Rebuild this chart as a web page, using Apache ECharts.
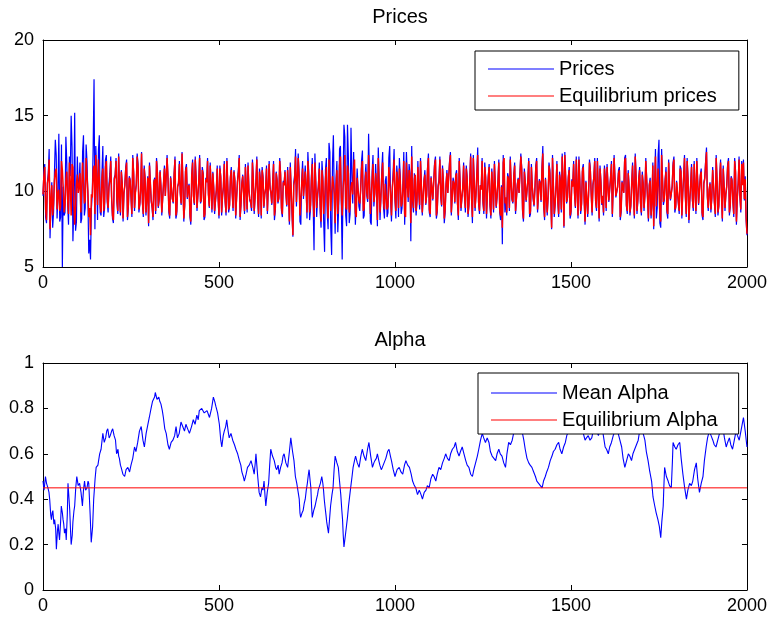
<!DOCTYPE html>
<html>
<head>
<meta charset="utf-8">
<script src="https://cdn.jsdelivr.net/npm/echarts@6/dist/echarts.min.js"></script>
<style>
html,body{margin:0;padding:0;background:#fff;}
#c{width:770px;height:626px;}
</style>
</head>
<body>
<div id="c"></div>
<script>
// ---------- data ----------
const xTicks = [0, 500, 1000, 1500, 2000];
const priceTicks = [5, 10, 15, 20];
const alphaTicks = [0, 0.2, 0.4, 0.6, 0.8, 1];
const priceStep = 5; // spacing of the price samples; the *Mid arrays sit halfway between them

// equilibrium prices at t = 0, 5, 10, ... 2000
const eqPrices = [
9.8,11.6,8.1,10.9,7.5,10.4,9.2,11.3,8.8,10.1,9.0,11.4,8.6,10.8,9.5,11.9,8.4,11.6,7.8,10.5,
9.9,11.2,8.7,10.6,9.4,11.0,8.3,7.1,9.6,11.7,12.4,9.1,10.8,8.6,11.5,9.3,12.0,8.9,10.7,9.6,
8.1,11.0,9.4,12.3,8.6,10.5,9.9,11.4,8.3,10.9,9.7,12.2,8.9,10.4,11.6,9.2,12.5,8.5,10.8,9.6,
7.9,11.8,9.0,10.6,8.7,11.2,9.5,10.3,8.6,11.5,9.8,10.9,8.4,11.0,9.3,12.1,8.7,10.5,9.9,12.5,
8.2,11.3,9.6,10.4,8.0,11.9,9.2,10.8,8.9,12.2,9.5,11.1,8.5,10.6,9.8,11.7,8.8,10.2,9.4,11.5,
8.4,10.9,9.7,11.8,8.6,10.3,9.1,11.4,8.9,10.7,9.6,11.2,8.3,10.5,9.9,11.6,8.8,10.1,9.3,11.9,
8.7,10.6,9.5,11.3,8.4,10.9,9.8,11.5,8.6,10.2,9.2,11.8,8.9,10.7,9.6,11.1,8.5,10.4,9.9,11.4,
8.0,11.7,7.1,10.8,9.3,12.2,8.4,10.5,9.7,11.3,8.6,10.9,9.1,11.8,8.3,10.4,9.8,11.5,8.0,10.7,
9.4,11.6,8.2,12.0,8.8,10.5,7.9,11.4,9.5,12.3,8.4,10.9,9.0,11.7,8.6,10.3,9.8,12.1,8.3,11.0,
9.2,11.5,8.7,10.6,9.9,12.4,8.5,10.8,9.3,11.2,8.1,10.4,9.7,11.9,8.8,10.5,9.0,11.6,8.4,10.9,
9.6,11.3,8.9,10.7,9.2,12.0,8.3,10.5,11.4,7.9,9.5,10.8,8.7,11.6,9.1,10.3,8.6,11.1,9.8,12.2,
8.5,10.9,9.4,12.1,8.8,10.6,9.7,11.5,8.2,10.4,9.9,11.8,8.6,10.7,9.3,11.2,8.4,10.5,9.6,11.7,
8.9,10.8,9.2,12.3,8.3,10.6,9.8,12.4,8.7,10.1,9.4,11.6,8.5,10.9,9.1,11.3,8.8,10.4,9.7,11.9,
8.4,7.6,12.2,9.6,11.0,8.9,10.5,9.3,11.7,8.6,10.8,9.9,11.4,8.2,10.6,9.5,12.0,8.7,10.3,9.1,
11.5,8.8,10.7,9.4,12.5,8.3,10.9,9.7,11.2,7.6,10.4,9.2,11.8,8.5,10.6,12.3,7.7,10.8,9.6,11.4,
8.7,10.3,9.9,12.1,8.4,10.7,9.2,11.6,8.0,10.5,9.8,11.3,8.6,10.9,9.4,12.0,8.2,10.6,9.7,11.5,
8.9,10.4,9.3,11.8,8.5,10.8,9.6,11.2,8.3,10.6,9.9,12.2,8.7,10.3,9.1,11.7,8.4,10.9,9.5,11.4,
8.6,10.5,9.8,11.9,8.2,10.7,9.4,7.7,12.3,9.1,11.6,8.0,10.8,9.6,11.3,8.5,10.2,9.9,11.7,8.8,
10.6,9.3,11.5,8.4,10.9,9.7,12.0,8.1,10.4,9.5,11.8,8.7,10.6,9.2,11.3,8.3,10.8,12.6,8.9,10.5,
9.6,11.4,8.5,10.7,9.1,11.9,8.2,10.3,9.8,11.6,8.6,10.9,9.4,12.0,8.0,10.5,9.7,11.8,11.9,10.8,
7.2
];
// equilibrium prices at t = 2.5, 7.5, ... 1997.5
const eqPricesMid = [
11.0,8.8,10.5,12.1,9.3,8.4,10.7,11.5,9.9,8.7,12.0,10.2,9.1,11.3,8.5,10.6,11.8,9.4,8.9,11.1,
10.3,8.6,11.9,9.2,12.2,10.0,8.9,9.8,11.4,8.5,10.6,12.1,9.0,10.9,8.7,11.6,9.5,10.3,12.0,8.4,
10.8,12.0,8.7,9.6,11.3,8.2,10.4,11.9,9.1,10.7,8.5,11.2,9.9,12.3,8.8,10.1,9.3,11.5,8.6,10.9,
11.7,9.4,8.3,10.8,12.0,9.0,11.3,8.6,10.5,9.7,12.2,8.8,10.9,9.5,11.1,8.4,10.3,11.8,9.2,10.6,
9.1,11.6,10.2,8.5,11.0,9.7,12.1,8.9,10.6,9.3,11.4,8.3,10.8,12.0,9.0,10.4,11.2,8.7,10.1,9.6,
11.5,8.6,10.3,9.4,12.0,8.8,10.9,9.9,11.3,8.4,10.6,12.2,9.2,11.0,8.7,10.2,11.7,9.5,8.9,10.8,
9.6,12.1,8.5,10.7,11.4,9.0,10.2,8.7,11.8,9.9,10.5,8.4,11.2,9.3,12.0,8.9,10.6,11.3,9.1,10.0,
11.6,8.8,10.4,12.3,9.2,10.9,8.3,11.5,9.7,10.2,12.0,8.6,10.7,9.4,11.9,8.9,10.3,9.1,11.4,8.5,
10.8,9.3,12.1,8.7,11.0,9.8,10.4,8.5,11.7,9.6,10.2,12.4,8.8,11.2,9.0,10.6,11.5,8.6,10.9,9.4,
10.1,12.0,8.9,11.3,9.5,10.7,8.4,11.8,9.9,10.3,12.2,8.6,11.0,9.2,10.5,8.8,11.6,9.7,10.2,12.1,
8.7,10.6,11.5,9.0,10.2,8.5,11.9,9.6,10.8,12.3,8.9,11.1,9.4,10.0,12.0,8.6,10.7,9.2,11.4,8.8,
10.9,9.5,11.7,8.4,10.3,12.1,9.1,10.6,8.8,11.2,9.8,12.4,8.6,10.5,11.0,9.3,12.0,8.9,10.2,9.7,
11.5,8.5,10.7,9.6,12.2,8.9,11.1,9.3,10.4,12.0,8.7,10.9,9.8,11.6,8.4,10.2,11.8,9.0,10.6,8.8,
10.3,11.9,9.2,8.6,10.8,12.1,9.5,11.0,8.7,10.4,9.9,12.3,8.8,11.3,9.4,10.7,8.5,11.6,9.6,10.1,
12.0,8.9,10.5,11.4,9.1,10.8,8.6,11.7,9.7,12.2,8.5,10.3,9.4,11.1,8.8,10.6,12.4,9.3,10.9,8.4,
10.7,11.8,9.0,10.2,12.1,8.7,11.3,9.5,10.6,8.5,11.9,9.8,10.4,12.0,8.9,10.1,11.5,9.2,8.6,10.8,
11.6,9.4,10.9,8.5,12.2,9.7,10.3,11.4,8.8,10.6,12.0,9.1,11.2,8.6,10.5,9.9,12.3,8.7,10.8,9.3,
11.1,8.9,12.0,9.6,10.4,8.4,11.7,10.2,9.0,11.5,8.6,12.4,9.3,10.7,8.8,11.9,9.5,10.3,12.1,9.0,
10.6,8.7,11.3,9.9,12.2,8.5,10.8,9.4,11.6,8.9,10.2,12.0,9.2,11.0,8.6,10.5,11.8,9.7,10.1,8.8,
11.4,9.3,12.2,8.6,10.9,9.8,11.5,8.9,10.3,12.0,9.1,10.7,8.5,11.2,9.6,12.1,8.8,10.4,9.5,8.3
];
// prices at t = 0, 5, 10, ... 2000
const prices = [
9.7,11.8,7.9,11.2,6.9,10.6,8.6,13.4,8.2,13.8,8.3,5.0,8.4,13.6,9.2,12.3,15.0,6.7,15.2,8.0,
10.2,11.9,8.2,13.7,8.9,12.0,5.9,5.5,9.8,17.4,13.0,8.1,13.7,8.4,13.0,8.9,12.4,8.6,11.2,9.4,
7.9,11.1,9.3,12.5,8.4,10.6,9.9,11.6,8.1,11.0,9.6,12.4,8.7,10.5,11.8,9.1,12.6,8.3,10.9,9.5,
7.7,12.0,8.9,10.7,8.5,11.4,9.4,10.4,8.4,11.7,9.8,11.0,8.2,11.1,9.2,12.3,8.5,10.6,9.9,12.6,
8.0,11.5,9.5,10.5,7.8,12.1,9.1,10.9,8.7,12.4,9.4,11.2,8.3,10.7,9.8,11.9,8.6,10.3,9.3,11.7,
8.2,11.0,9.6,12.0,8.4,10.4,9.0,11.6,8.7,10.8,9.5,11.4,8.1,10.6,9.9,11.8,8.6,10.2,9.2,12.1,
8.5,10.7,9.4,11.5,8.2,11.0,9.8,11.7,8.4,10.3,9.1,12.0,8.7,10.8,9.5,11.2,8.3,10.5,9.9,11.6,
7.8,12.0,7.0,11.1,9.0,12.5,8.0,10.8,9.5,11.7,8.2,11.3,8.8,12.2,6.1,10.7,9.5,11.9,7.6,11.0,
6.0,12.2,7.5,12.6,5.8,13.7,7.2,12.0,8.9,13.0,5.5,14.4,8.4,14.4,7.9,14.2,9.2,12.7,7.7,11.6,
8.7,12.0,8.2,11.0,9.7,13.8,8.0,11.3,9.0,11.8,7.7,10.8,9.5,12.6,8.2,11.0,8.6,13.0,8.0,11.4,
9.4,11.7,8.3,11.0,8.9,12.6,7.8,10.9,11.8,6.7,9.3,11.2,8.4,12.0,8.8,10.5,8.3,11.4,9.7,12.5,
8.3,11.1,9.3,12.3,8.6,10.8,9.6,11.7,7.9,10.5,9.9,12.0,8.4,10.9,9.2,11.4,8.1,10.6,9.5,11.9,
8.6,11.0,9.0,12.5,7.9,10.8,9.7,12.9,8.5,10.2,9.2,11.9,8.2,11.0,9.0,11.5,8.6,10.5,9.6,12.1,
8.1,6.5,12.4,9.5,11.2,8.7,10.6,9.2,11.9,8.4,10.9,9.9,11.6,8.0,10.7,9.4,12.2,8.5,10.4,9.0,
11.7,8.6,10.8,9.3,13.0,8.1,11.0,9.6,11.4,7.5,10.5,9.1,12.0,8.3,10.7,12.5,7.6,10.9,9.5,11.6,
8.5,10.4,9.9,12.3,8.2,10.8,9.1,11.8,7.8,10.6,9.8,11.5,8.4,11.0,9.3,12.2,8.0,10.7,9.6,11.7,
8.7,10.5,9.2,12.0,8.3,10.9,9.5,11.4,8.1,10.7,9.9,12.4,8.5,10.4,9.0,11.9,8.2,11.0,9.4,11.6,
8.4,10.6,9.7,12.1,8.0,10.9,9.2,7.5,12.8,8.9,13.4,7.6,12.9,9.4,11.6,8.2,10.3,9.8,11.9,8.6,
10.7,9.2,11.7,8.2,11.0,9.6,12.2,7.9,10.5,9.4,12.0,8.5,10.7,9.1,11.5,8.1,10.9,12.9,8.7,10.6,
9.5,11.6,8.3,10.8,9.0,12.1,8.0,10.4,9.8,11.8,8.4,11.0,9.3,12.2,7.8,10.6,9.6,12.0,12.1,11.0,
7.1
];
// prices at t = 2.5, 7.5, ... 1997.5
const pricesMid = [
11.3,8.3,10.6,12.8,9.1,7.6,11.2,12.4,9.8,8.0,13.1,10.3,8.6,12.0,7.8,11.0,12.9,8.9,7.4,12.3,
10.5,7.9,12.6,8.4,13.1,9.7,6.8,8.9,12.9,7.5,11.3,12.7,8.6,11.2,8.3,12.1,9.3,10.5,12.3,8.2,
10.9,12.2,8.5,9.6,11.4,8.0,10.4,12.1,8.9,10.8,8.3,11.3,9.9,12.5,8.6,10.1,9.2,11.7,8.4,11.0,
11.9,9.3,8.1,10.9,12.2,8.9,11.4,8.4,10.6,9.7,12.4,8.6,11.0,9.5,11.2,8.2,10.3,12.0,9.1,10.7,
9.0,11.8,10.2,8.3,11.1,9.7,12.3,8.7,10.7,9.2,11.6,8.1,10.9,12.2,8.9,10.4,11.3,8.5,10.1,9.6,
11.7,8.4,10.3,9.3,12.2,8.6,11.0,9.9,11.4,8.2,10.7,12.4,9.1,11.1,8.5,10.2,11.9,9.4,8.7,10.9,
9.6,12.3,8.3,10.8,11.6,8.9,10.2,8.5,12.0,9.9,10.6,8.1,11.3,9.2,12.2,8.7,10.7,11.4,9.0,10.0,
11.9,8.4,10.6,12.8,8.9,11.3,7.8,12.0,9.6,10.3,12.6,8.1,11.0,9.1,12.5,8.3,10.5,8.6,12.0,7.9,
11.4,8.6,13.2,7.6,11.9,9.5,10.8,7.3,12.8,9.2,10.4,13.6,7.7,12.3,8.5,11.2,12.6,7.8,11.5,9.0,
10.2,12.7,8.4,11.8,9.3,11.1,7.8,12.4,9.8,10.4,12.9,8.1,11.4,8.9,10.7,8.3,12.2,9.5,10.3,12.8,
8.2,10.9,12.2,8.5,10.4,7.8,12.6,9.3,11.2,13.0,8.6,11.3,9.3,10.0,12.2,8.4,10.8,9.1,11.6,8.6,
11.0,9.4,11.9,8.2,10.4,12.3,9.0,10.7,8.6,11.4,9.8,12.6,8.4,10.6,11.1,9.2,12.2,8.7,10.2,9.7,
11.7,8.3,10.8,9.5,12.4,8.7,11.2,9.2,10.4,12.2,8.5,11.0,9.8,11.8,8.2,10.2,12.0,8.9,10.7,8.6,
10.4,12.4,8.6,8.4,10.9,12.3,9.4,11.1,8.5,10.5,9.9,12.5,8.6,11.5,9.3,10.8,8.3,11.8,9.5,10.1,
12.2,8.7,10.6,11.6,9.0,10.9,8.4,11.9,9.6,12.4,8.3,10.4,9.3,11.3,8.6,10.7,12.6,9.2,11.0,8.2,
10.8,12.0,8.9,10.2,12.3,8.5,11.5,9.4,10.7,8.3,12.1,9.8,10.5,12.2,8.7,10.1,11.7,9.1,8.4,10.9,
11.8,9.3,11.0,8.3,12.4,9.6,10.3,11.6,8.6,10.7,12.2,9.0,11.4,8.4,10.6,9.9,12.5,8.5,10.9,9.2,
11.3,8.7,12.2,9.5,10.5,8.2,11.9,10.3,8.2,12.4,7.9,12.8,9.1,10.8,8.6,12.1,9.4,10.4,12.3,8.9,
10.7,8.5,11.5,9.9,12.4,8.3,10.9,9.3,11.8,8.7,10.2,12.2,9.1,11.1,8.4,10.6,12.0,9.6,10.1,8.6,
11.6,9.2,12.4,8.4,11.0,9.8,11.7,8.7,10.4,12.2,9.0,10.8,8.3,11.4,9.5,12.3,8.6,10.5,9.4,8.1
];

// mean alpha, sample time and value
const alphaX = [
0,3,7,10,14,17,19,22,24,26,28,31,33,36,38,41,43,45,47,50,52,55,57,59,61,64,66,69,71,74,
76,78,80,83,85,88,90,93,96,100,104,108,112,115,118,121,125,128,130,134,137,141,144,148,151,156,161,165,170,174,
178,181,184,188,191,195,198,202,206,209,213,215,217,220,222,227,232,236,241,246,250,255,260,264,269,274,279,284,288,293,
298,302,307,311,314,317,319,324,329,332,335,339,342,346,350,355,359,364,369,374,378,382,387,392,397,402,406,411,416,422,
427,432,437,441,444,451,458,466,473,479,484,488,491,496,501,505,508,512,515,519,522,526,529,534,539,544,548,553,558,562,
565,569,572,577,581,586,591,596,600,603,605,610,614,618,622,625,628,631,633,637,641,644,647,652,657,661,664,668,671,675,
679,682,685,690,695,700,704,709,713,717,721,725,728,730,732,736,739,742,745,748,751,754,756,759,761,763,765,769,773,777,
780,782,784,788,792,795,797,799,801,804,806,809,811,814,817,821,824,827,830,835,839,843,846,849,851,853,855,859,862,865,
868,871,874,878,881,885,888,893,898,903,907,912,917,922,926,931,936,940,943,947,950,954,957,961,964,969,974,979,983,987,
990,995,1000,1006,1012,1017,1022,1027,1031,1036,1041,1046,1050,1055,1059,1064,1069,1074,1078,1083,1088,1092,1097,1102,1107,1111,1116,1120,1125,1130,
1135,1140,1144,1149,1154,1158,1163,1168,1172,1177,1182,1186,1191,1196,1201,1205,1210,1215,1220,1224,1229,1234,1238,1243,1248,1252,1257,1262,1267,1271,
1276,1281,1286,1290,1295,1299,1304,1309,1314,1318,1323,1328,1333,1337,1342,1347,1352,1356,1361,1366,1370,1375,1380,1384,1389,1394,1399,1403,1408,1413,
1418,1422,1427,1431,1436,1441,1446,1450,1455,1460,1465,1469,1474,1479,1484,1488,1493,1497,1502,1507,1512,1516,1521,1526,1531,1535,1540,1544,1549,1554,
1559,1563,1568,1573,1578,1582,1587,1592,1597,1601,1606,1610,1615,1620,1625,1629,1634,1639,1644,1648,1653,1658,1663,1667,1672,1676,1681,1686,1691,1695,
1700,1705,1710,1714,1719,1724,1729,1733,1738,1742,1747,1751,1755,1758,1762,1764,1766,1771,1776,1780,1785,1788,1790,1795,1799,1804,1809,1813,1818,1823,
1828,1832,1837,1842,1846,1851,1856,1860,1865,1870,1875,1879,1884,1888,1893,1898,1903,1907,1912,1917,1922,1926,1931,1936,1941,1945,1950,1954,1959,1964,
1969,1973,1978,1984,1990,1995,2000
];
const meanAlpha = [
0.48,0.44,0.50,0.47,0.45,0.43,0.40,0.33,0.31,0.34,0.35,0.29,0.31,0.27,0.18,0.26,0.29,0.25,0.22,0.30,0.37,0.34,0.31,0.29,0.25,0.27,0.22,0.33,0.47,0.40,
0.35,0.27,0.20,0.24,0.30,0.35,0.37,0.45,0.50,0.46,0.47,0.43,0.37,0.44,0.48,0.44,0.45,0.48,0.47,0.33,0.21,0.28,0.40,0.49,0.54,0.55,0.60,0.62,0.69,0.65,
0.67,0.70,0.71,0.67,0.68,0.70,0.71,0.68,0.66,0.60,0.62,0.59,0.58,0.55,0.54,0.51,0.50,0.53,0.54,0.52,0.55,0.58,0.63,0.61,0.65,0.70,0.72,0.66,0.63,0.69,
0.73,0.76,0.80,0.83,0.84,0.85,0.87,0.84,0.85,0.83,0.82,0.79,0.76,0.71,0.69,0.64,0.62,0.65,0.66,0.68,0.72,0.67,0.69,0.74,0.72,0.70,0.73,0.71,0.69,0.72,
0.75,0.73,0.77,0.75,0.79,0.80,0.78,0.79,0.76,0.80,0.85,0.83,0.81,0.78,0.73,0.66,0.63,0.68,0.70,0.72,0.75,0.70,0.67,0.69,0.66,0.64,0.62,0.60,0.57,0.55,
0.52,0.50,0.48,0.51,0.54,0.55,0.57,0.54,0.51,0.56,0.60,0.50,0.43,0.41,0.45,0.44,0.48,0.41,0.37,0.43,0.47,0.55,0.62,0.59,0.57,0.54,0.53,0.55,0.51,0.54,
0.56,0.59,0.60,0.56,0.54,0.61,0.67,0.61,0.57,0.50,0.47,0.43,0.40,0.34,0.32,0.34,0.35,0.38,0.40,0.44,0.47,0.51,0.53,0.48,0.45,0.37,0.32,0.35,0.37,0.40,
0.42,0.44,0.45,0.47,0.50,0.47,0.44,0.40,0.37,0.33,0.30,0.27,0.25,0.31,0.37,0.42,0.45,0.53,0.59,0.56,0.54,0.47,0.42,0.35,0.31,0.24,0.19,0.24,0.28,0.32,
0.37,0.41,0.45,0.50,0.54,0.57,0.59,0.56,0.54,0.59,0.62,0.59,0.57,0.62,0.65,0.59,0.54,0.56,0.57,0.58,0.60,0.57,0.55,0.53,0.54,0.56,0.58,0.61,0.62,0.59,
0.57,0.53,0.50,0.53,0.54,0.52,0.51,0.55,0.57,0.55,0.54,0.51,0.48,0.46,0.45,0.42,0.44,0.42,0.40,0.43,0.44,0.46,0.45,0.49,0.51,0.50,0.48,0.51,0.54,0.53,
0.56,0.58,0.60,0.58,0.57,0.60,0.62,0.63,0.65,0.61,0.59,0.61,0.63,0.60,0.57,0.55,0.54,0.51,0.50,0.53,0.56,0.59,0.62,0.66,0.69,0.67,0.65,0.67,0.65,0.61,
0.59,0.58,0.57,0.60,0.62,0.60,0.59,0.56,0.54,0.60,0.65,0.64,0.66,0.69,0.72,0.71,0.73,0.72,0.70,0.66,0.62,0.58,0.56,0.55,0.54,0.52,0.50,0.48,0.47,0.46,
0.45,0.48,0.50,0.52,0.54,0.57,0.59,0.61,0.62,0.64,0.65,0.62,0.60,0.63,0.65,0.68,0.70,0.71,0.72,0.73,0.74,0.71,0.70,0.73,0.72,0.69,0.66,0.67,0.68,0.66,
0.67,0.70,0.72,0.70,0.68,0.71,0.74,0.68,0.63,0.62,0.60,0.63,0.65,0.68,0.70,0.71,0.69,0.66,0.63,0.58,0.54,0.57,0.60,0.59,0.57,0.60,0.62,0.64,0.66,0.70,
0.72,0.69,0.66,0.61,0.57,0.52,0.48,0.41,0.37,0.34,0.31,0.28,0.23,0.30,0.37,0.46,0.54,0.50,0.48,0.46,0.45,0.56,0.65,0.63,0.62,0.64,0.65,0.58,0.51,0.45,
0.40,0.44,0.47,0.46,0.48,0.53,0.56,0.49,0.43,0.47,0.50,0.57,0.63,0.67,0.70,0.68,0.66,0.64,0.63,0.66,0.69,0.71,0.72,0.67,0.63,0.65,0.67,0.64,0.62,0.66,
0.70,0.68,0.66,0.71,0.76,0.70,0.63
];
const eqAlpha = 0.45;

// ---------- build ----------
function interleave(main, mid, step) {
  const pts = [];
  for (let i = 0; i < main.length; i++) {
    pts.push([i * step, main[i]]);
    if (i < mid.length) pts.push([i * step + step / 2, mid[i]]);
  }
  return pts;
}
const pricePts = interleave(prices, pricesMid, priceStep);
const eqPricePts = interleave(eqPrices, eqPricesMid, priceStep);
const alphaPts = meanAlpha.map((v, i) => [alphaX[i], v]);
const eqAlphaPts = [[xTicks[0], eqAlpha], [xTicks[xTicks.length - 1], eqAlpha]];

const FONT = 'Liberation Sans, Arial, sans-serif';
const GL = 43, GW = 706;
const grids = [
  {left: GL, top: 40, width: GW, height: 227},
  {left: GL, top: 363, width: GW, height: 227}
];

function xAx(gi, pos, labels) {
  return {
    type: 'value', gridIndex: gi, position: pos,
    min: xTicks[0], max: xTicks[xTicks.length - 1], interval: xTicks[1] - xTicks[0],
    axisLine: {show: true, onZero: false, lineStyle: {color: '#000', width: 1}},
    axisTick: {show: true, inside: true, length: 5, lineStyle: {color: '#000'}},
    axisLabel: {show: labels, color: '#000', fontSize: 18, fontFamily: FONT, margin: 7,
                formatter: v => String(v)},
    splitLine: {show: false}
  };
}
function yAx(gi, pos, ticks, labels) {
  return {
    type: 'value', gridIndex: gi, position: pos,
    min: ticks[0], max: ticks[ticks.length - 1],
    interval: +(ticks[1] - ticks[0]).toFixed(10),
    axisLine: {show: true, onZero: false, lineStyle: {color: '#000', width: 1}},
    axisTick: {show: true, inside: true, length: 5, lineStyle: {color: '#000'}},
    axisLabel: {show: labels, color: '#000', fontSize: 18, fontFamily: FONT, margin: 9,
                formatter: v => String(+v.toFixed(1))},
    splitLine: {show: false}
  };
}

const lineBase = {
  type: 'line', symbol: 'none', showSymbol: false, sampling: null,
  animation: false, silent: true
};

const legendText = {fontSize: 20, color: '#000', fontFamily: FONT, lineHeight: 20};

const option = {
  backgroundColor: '#fff',
  animation: false,
  textStyle: {fontFamily: FONT},
  title: [
    {text: 'Prices', left: 395, top: 2, textAlign: 'center',
     textStyle: {fontSize: 20, fontWeight: 'normal', color: '#000', fontFamily: FONT}},
    {text: 'Alpha', left: 395, top: 325, textAlign: 'center',
     textStyle: {fontSize: 20, fontWeight: 'normal', color: '#000', fontFamily: FONT}}
  ],
  grid: grids,
  xAxis: [xAx(0, 'bottom', true), xAx(0, 'top', false), xAx(1, 'bottom', true), xAx(1, 'top', false)],
  yAxis: [yAx(0, 'left', priceTicks, true), yAx(0, 'right', priceTicks, false),
          yAx(1, 'left', alphaTicks, true), yAx(1, 'right', alphaTicks, false)],
  legend: [
    {
      data: ['Prices', 'Equilibrium prices'],
      left: 475, top: 51, orient: 'vertical',
      icon: 'rect', itemWidth: 66, itemHeight: 1, itemGap: 7, selectedMode: false,
      padding: [8, 22, 4, 13],
      borderColor: '#000', borderWidth: 1, backgroundColor: '#fff',
      textStyle: legendText
    },
    {
      data: ['Mean Alpha', 'Equilibrium Alpha'],
      left: 478, top: 373, orient: 'vertical',
      icon: 'rect', itemWidth: 66, itemHeight: 1, itemGap: 7, selectedMode: false,
      padding: [10, 21, 4, 13],
      borderColor: '#000', borderWidth: 1, backgroundColor: '#fff',
      textStyle: legendText
    }
  ],
  series: [
    Object.assign({}, lineBase, {name: 'Prices', xAxisIndex: 0, yAxisIndex: 0, data: pricePts,
      lineStyle: {color: '#0000ff', width: 1.2}, itemStyle: {color: '#0000ff'}}),
    Object.assign({}, lineBase, {name: 'Equilibrium prices', xAxisIndex: 0, yAxisIndex: 0, data: eqPricePts,
      lineStyle: {color: '#ff0000', width: 1.5}, itemStyle: {color: '#ff0000'}}),
    Object.assign({}, lineBase, {name: 'Mean Alpha', xAxisIndex: 2, yAxisIndex: 2, data: alphaPts,
      lineStyle: {color: '#0000ff', width: 1.1}, itemStyle: {color: '#0000ff'}}),
    Object.assign({}, lineBase, {name: 'Equilibrium Alpha', xAxisIndex: 2, yAxisIndex: 2, data: eqAlphaPts,
      lineStyle: {color: '#ff0000', width: 1}, itemStyle: {color: '#ff0000'}})
  ]
};

const chart = echarts.init(document.getElementById('c'), null, {renderer: 'canvas'});
chart.setOption(option);
</script>
</body>
</html>
